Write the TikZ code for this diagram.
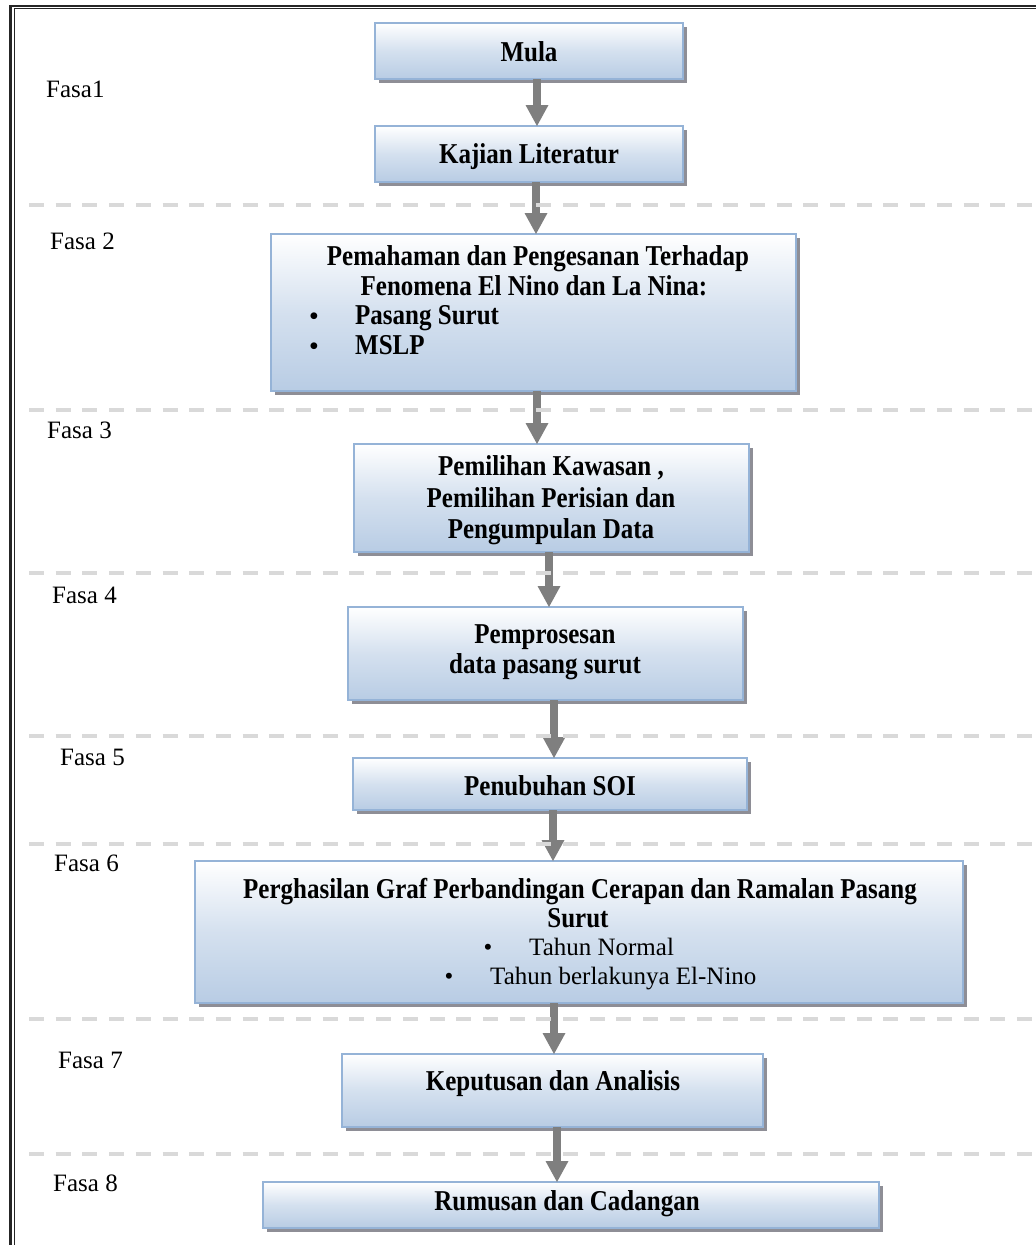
\documentclass[tikz,border=0pt]{standalone}
\usepackage{fontspec}
\setmainfont{Liberation Serif}
\usetikzlibrary{arrows.meta,shadows}
\definecolor{boxblue}{HTML}{B8CCE4}
\definecolor{boxline}{HTML}{95B3D7}
\definecolor{arrgray}{HTML}{7F7F7F}
\definecolor{dashgray}{HTML}{D9D9D9}
\definecolor{shadowgray}{HTML}{8E8E96}
\newcommand{\bxtall}[1]{\scalebox{1}[1.15]{#1}}
\begin{document}
\begin{tikzpicture}[x=1pt,y=-1pt,
  flowbox/.style={draw=boxline, line width=2pt, top color=white, bottom color=boxblue,
    middle color=boxblue!60!white,
    inner sep=0pt, outer sep=0pt,
    drop shadow={shadow xshift=4pt, shadow yshift=-4pt, opacity=1, fill=shadowgray}},
  boxtxt/.style={font=\fontsize{25}{29}\selectfont\bfseries, anchor=base, inner sep=0pt},
  regtxt/.style={font=\fontsize{25}{29}\selectfont, anchor=base, inner sep=0pt},
  phase/.style={font=\fontsize{25}{29}\selectfont, anchor=base west, inner sep=0pt},
  arr/.style={draw=arrgray, color=arrgray, line width=8.5pt,
    -{Triangle[width=23pt,length=21pt,line width=0pt]}},
  sepline/.style={draw=dashgray, line width=4pt, dash pattern=on 15pt off 11.7pt},
  frameline/.style={draw=black!85}
]
\useasboundingbox (0,0) rectangle (1036,1245);

% page frame (double line)
\draw[frameline, line width=2.3pt] (10.5,1260) -- (10.5,5.8) -- (1050,5.8);
\draw[frameline, line width=1.3pt] (14.2,1260) -- (14.2,8.8) -- (1050,8.8);

% boxes
\node[flowbox, minimum width=308pt, minimum height=56pt] (b1) at (529,51) {};
\node[flowbox, minimum width=308pt, minimum height=56pt] (b2) at (529,154) {};
\node[flowbox, minimum width=525pt, minimum height=157pt] (b3) at (533.5,312.5) {};
\node[flowbox, minimum width=395pt, minimum height=108pt] (b4) at (551.5,498) {};
\node[flowbox, minimum width=395pt, minimum height=93pt] (b5) at (545.5,653.5) {};
\node[flowbox, minimum width=394pt, minimum height=52pt] (b6) at (550,784) {};
\node[flowbox, minimum width=768pt, minimum height=142pt] (b7) at (579,932) {};
\node[flowbox, minimum width=421pt, minimum height=73pt] (b8) at (552.5,1090.5) {};
\node[flowbox, minimum width=616pt, minimum height=46pt] (b9) at (571,1205) {};

% box texts
\node[boxtxt] (t1) at (529,61) {\bxtall{Mula}};
\node[boxtxt] (t2) at (529,163) {\bxtall{Kajian Literatur}};
\node[boxtxt] (t3a) at (538,265) {\bxtall{Pemahaman dan Pengesanan Terhadap}};
\node[boxtxt] (t3b) at (534,295) {\bxtall{Fenomena El Nino dan La Nina:}};
\node[boxtxt] (t3c) at (314,324) {\textbullet};
\node[boxtxt, anchor=base west] (t3d) at (355,324) {\bxtall{Pasang Surut}};
\node[boxtxt] (t3e) at (314,354) {\textbullet};
\node[boxtxt, anchor=base west] (t3f) at (355,354) {\bxtall{MSLP}};
\node[boxtxt] (t4a) at (551,475) {\bxtall{Pemilihan Kawasan ,}};
\node[boxtxt] (t4b) at (551,507) {\bxtall{Pemilihan Perisian dan}};
\node[boxtxt] (t4c) at (551,538) {\bxtall{Pengumpulan Data}};
\node[boxtxt] (t5a) at (545,643) {\bxtall{Pemprosesan}};
\node[boxtxt] (t5b) at (545,673) {\bxtall{data pasang surut}};
\node[boxtxt] (t6) at (550,795) {\bxtall{Penubuhan SOI}};
\node[boxtxt] (t7a) at (580,898) {\bxtall{Perghasilan Graf Perbandingan Cerapan dan Ramalan Pasang}};
\node[boxtxt] (t7b) at (578,927) {\bxtall{Surut}};
\node[regtxt] (t7c) at (488,955) {\textbullet};
\node[regtxt, anchor=base west] (t7d) at (529,955) {Tahun Normal};
\node[regtxt] (t7e) at (449,984) {\textbullet};
\node[regtxt, anchor=base west] (t7f) at (490,984) {Tahun berlakunya El-Nino};
\node[boxtxt] (t8) at (553,1090) {\bxtall{Keputusan dan Analisis}};
\node[boxtxt] (t9) at (567,1210) {\bxtall{Rumusan dan Cadangan}};

% phase labels
\node[phase] (f1) at (46,97) {Fasa1};
\node[phase] (f2) at (50,249) {Fasa 2};
\node[phase] (f3) at (47,438) {Fasa 3};
\node[phase] (f4) at (52,603) {Fasa 4};
\node[phase] (f5) at (60,765) {Fasa 5};
\node[phase] (f6) at (54,871) {Fasa 6};
\node[phase] (f7) at (58,1068) {Fasa 7};
\node[phase] (f8) at (53,1191) {Fasa 8};

% arrows
\draw[arr] (b1.south -| 537,0) -- (b2.north -| 537,0);
\draw[arr] (b2.south -| 536,0) -- (b3.north -| 536,0);
\draw[arr] (b3.south -| 537,0) -- (b4.north -| 537,0);
\draw[arr] (b4.south -| 549,0) -- (b5.north -| 549,0);
\draw[arr] (b5.south -| 554,0) -- (b6.north -| 554,0);
\draw[arr] (b6.south -| 553,0) -- (b7.north -| 553,0);
\draw[arr] (b7.south -| 554,0) -- (b8.north -| 554,0);
\draw[arr] (b8.south -| 557,0) -- (b9.north -| 557,0);

% phase separators
\foreach \yy in {205,410,573,736,844,1019,1154}
  \draw[sepline] (29,\yy) -- (1045,\yy);
\end{tikzpicture}
\end{document}
